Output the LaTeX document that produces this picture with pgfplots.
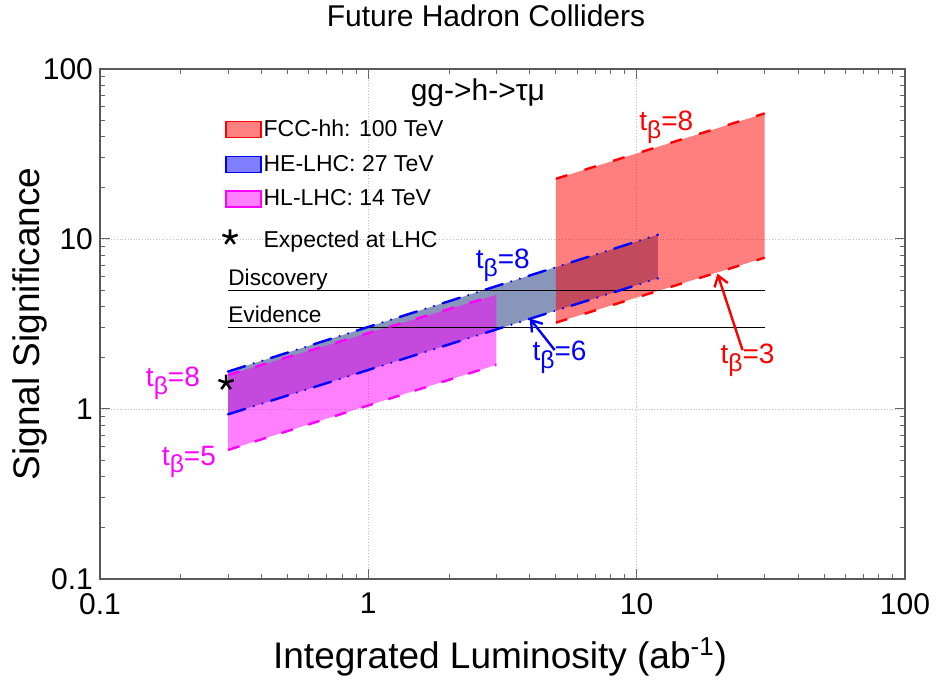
\documentclass[border=0pt]{standalone}
\usepackage{fontspec}
\setmainfont{Liberation Sans}
\usepackage{graphicx}
\usepackage{pgfplots}
\pgfplotsset{compat=1.18}
\usetikzlibrary{arrows.meta}
\definecolor{slate}{RGB}{136,150,186}
\definecolor{mag}{RGB}{255,0,255}
\newcommand{\tb}[1]{t\raisebox{-0.28em}{\scalebox{0.88}{β}}=#1}
\pgfplotsset{myarea/.style={/pgfplots/legend image code/.code={\draw[##1] (0pt,-4pt) rectangle (17.5pt,4pt);}},
  starleg/.style={/pgfplots/legend image code/.code={\draw[mark repeat=2, mark phase=2, ##1] plot coordinates {(-6pt,0pt) (2pt,0pt) (10pt,0pt)};}}}
\begin{document}
\begin{tikzpicture}
\path[use as bounding box] (-50pt,-52pt) rectangle (420.5pt,289.5pt);
\begin{axis}[
  at={(0,0)}, anchor=south west,
  scale only axis, width=402.5pt, height=255pt,
  xmode=log, ymode=log,
  xmin=0.1, xmax=100, ymin=0.1, ymax=100,
  xtick={0.1,1,10,100}, xticklabels={0.1,1,10,100},
  ytick={0.1,1,10,100}, yticklabels={0.1,1,10,100},
  tick label style={font=\fontsize{15}{15}\selectfont},
  xticklabel style={yshift=-3.5pt},
  major tick length=5pt, minor tick length=2.5pt,
  tick style={black!60, line width=0.5pt},
  axis line style={black!65, line width=0.6pt},
  grid=major, major grid style={densely dotted, black!25, line width=0.4pt},
  xlabel={Integrated Luminosity (ab\textsuperscript{-1})},
  ylabel={Signal Significance},
  xlabel style={at={(axis description cs:0.497,-0.153)}, anchor=center, font=\fontsize{18.5}{18.5}\selectfont},
  ylabel style={at={(axis description cs:-0.0865,0.5)}, anchor=center, font=\fontsize{18.5}{18.5}\selectfont},
  title={Future Hadron Colliders},
  title style={at={(axis description cs:0.4795,1.08)}, anchor=center, font=\fontsize{15}{15}\selectfont},
  legend style={at={(axis description cs:0.1516,0.905)}, anchor=north west, draw=none, fill=none,
    font=\fontsize{11.5}{13}\selectfont, row sep=5.75pt, inner sep=0pt,
    nodes={inner sep=1pt}, cells={anchor=west}},
  legend cell align=left,
]
% filled regions
\addplot[fill=slate, draw=none, forget plot] coordinates {(0.3,0.93) (12,5.87) (12,10.6) (0.3,1.66)} -- cycle;
\addplot[fill=mag, fill opacity=0.5, draw=none, forget plot] coordinates {(0.3,0.574) (3,1.82) (3,4.69) (0.3,1.585)} -- cycle;
\addplot[fill=red, fill opacity=0.5, draw=none, forget plot] coordinates {(5,3.22) (30,7.76) (30,54.8) (5,22.6)} -- cycle;
% discovery / evidence
\addplot[black, line width=0.6pt, forget plot] coordinates {(0.3,5) (30,5)};
\addplot[black, line width=0.6pt, forget plot] coordinates {(0.3,3) (30,3)};
% boundary lines
\addplot[mag, line width=1.2pt, dash pattern=on 6pt off 8pt, forget plot] coordinates {(0.3,1.585) (3,4.69)};
\addplot[mag, line width=1.2pt, dash pattern=on 6pt off 8pt, forget plot] coordinates {(0.3,0.574) (3,1.82)};
\addplot[blue, line width=1.2pt, line cap=round, dash pattern=on 9pt off 4.5pt on 0.01pt off 4.5pt on 0.01pt off 4.5pt, forget plot] coordinates {(0.3,1.66) (12,10.6)};
\addplot[blue, line width=1.2pt, line cap=round, dash pattern=on 9pt off 4.5pt on 0.01pt off 4.5pt on 0.01pt off 4.5pt, forget plot] coordinates {(0.3,0.93) (12,5.87)};
\addplot[red, line width=1.2pt, dash pattern=on 6pt off 9pt, forget plot] coordinates {(5,22.6) (30,54.8)};
\addplot[red, line width=1.2pt, dash pattern=on 6pt off 9pt, forget plot] coordinates {(5,3.22) (30,7.76)};
% legend
\addlegendimage{myarea, fill=red!50, draw=red, line width=0.6pt}
\addlegendentry{FCC-hh: 100 TeV}
\addlegendimage{myarea, fill=blue!50, draw=blue, line width=0.6pt}
\addlegendentry{HE-LHC: 27 TeV}
\addlegendimage{myarea, fill=mag!50, draw=mag, line width=0.6pt}
\addlegendentry{HL-LHC: 14 TeV}
\addplot[only marks, mark=star, mark size=4pt, black, line width=1.3pt, starleg]
  coordinates {(0.295,1.43)};
\addlegendentry{\rule{0pt}{11.75pt}Expected at LHC}
% annotations
\node[font=\fontsize{15}{15}\selectfont] at (axis cs:2.56,72.3) {gg->h->τμ};
\node[anchor=base west, inner sep=0pt, font=\fontsize{11.3}{11.3}\selectfont] at ([yshift=2.5pt]axis cs:0.3,5) {Discovery};
\node[anchor=base west, inner sep=0pt, font=\fontsize{11.3}{11.3}\selectfont] at ([yshift=2.5pt]axis cs:0.3,3) {Evidence};
\node[red, font=\fontsize{14}{14}\selectfont] at (axis cs:12.9,45.6) {\tb{8}};
\node[blue, font=\fontsize{14}{14}\selectfont] at (axis cs:3.17,7.03) {\tb{8}};
\node[blue, font=\fontsize{14}{14}\selectfont] at (axis cs:5.16,2.02) {\tb{6}};
\node[red, font=\fontsize{14}{14}\selectfont] at (axis cs:25.9,1.94) {\tb{3}};
\node[mag, font=\fontsize{14}{14}\selectfont] at (axis cs:0.187,1.42) {\tb{8}};
\node[mag, font=\fontsize{14}{14}\selectfont] at (axis cs:0.2145,0.488) {\tb{5}};
\draw[blue, line width=1.2pt, -{Straight Barb[length=5pt, width=7pt]}] (axis cs:4.95,2.22) -- (axis cs:4.0,3.4);
\draw[red, line width=1.2pt, -{Straight Barb[length=5pt, width=7pt]}] (axis cs:24.8,2.22) -- (axis cs:20.0,6.25);
\end{axis}
\end{tikzpicture}
\end{document}
